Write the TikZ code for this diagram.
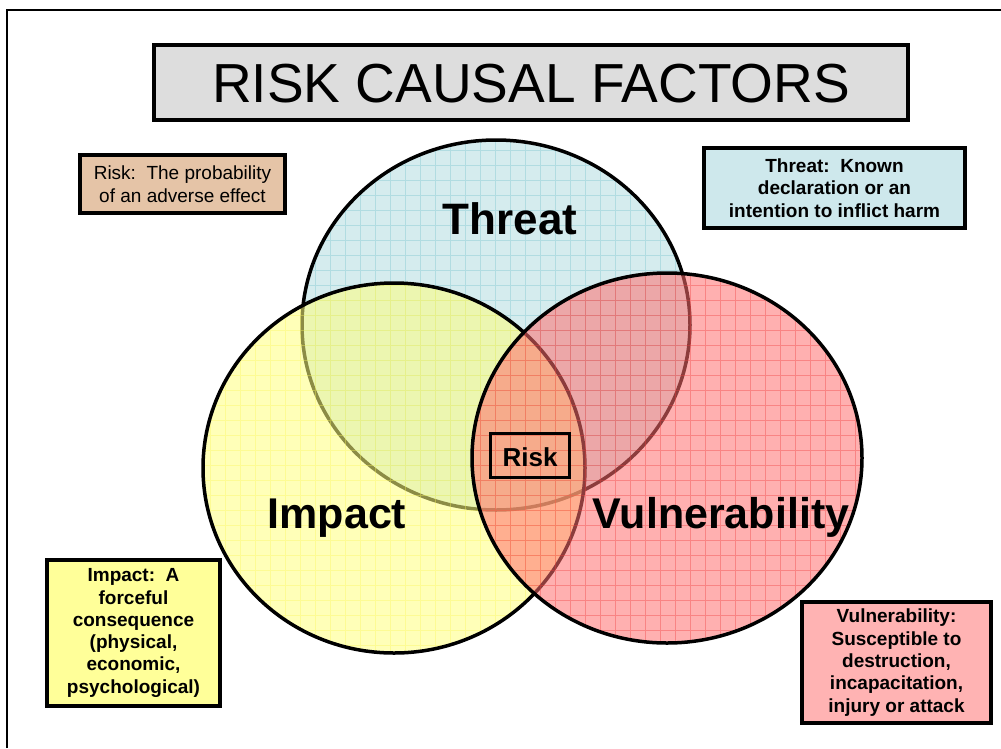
\documentclass[tikz,border=0pt]{standalone}
\usepackage{fontspec}
\setmainfont{Liberation Sans}
\definecolor{tbase}{RGB}{179,220,224}
\definecolor{ibase}{RGB}{255,255,126}
\definecolor{vbase}{RGB}{255,111,111}
\definecolor{tgrid}{RGB}{120,195,205}
\definecolor{igrid}{RGB}{250,245,90}
\definecolor{vgrid}{RGB}{240,60,60}
\definecolor{titlegray}{RGB}{221,221,221}
\definecolor{tanbox}{RGB}{229,196,167}
\definecolor{cyanbox}{RGB}{206,232,236}
\definecolor{yellowbox}{RGB}{255,255,153}
\definecolor{pinkbox}{RGB}{255,179,179}
\begin{document}
\begin{tikzpicture}[x=1pt,y=-1pt,
  infobox/.style={draw=black, line width=3.5pt, inner sep=0pt, align=center, font=\fontsize{19}{22.5}\selectfont},
  boldbox/.style={infobox, font=\fontsize{19}{22.3}\selectfont\bfseries},
  circlabel/.style={anchor=base, font=\fontsize{43}{50}\selectfont\bfseries},
  outline/.style={draw=black, line width=3.5pt},
  gridline/.style={line width=0.5pt, draw opacity=0.38}]
\useasboundingbox (0,0) rectangle (1001,748);
% page frame
\draw[line width=2pt] (7,748) -- (7,10) -- (1001,10);

% title
\node[draw=black, line width=4.5pt, fill=titlegray, minimum width=754, minimum height=75, inner sep=0pt] (titlebox) at (531,82.5) {};
\node[anchor=base, font=\fontsize{55}{60}\selectfont] (title) at (531,102) {RISK CAUSAL FACTORS};

% Threat circle
\fill[tbase, fill opacity=0.55] (496,325) ellipse [x radius=194, y radius=185];
\begin{scope}
  \clip (496,325) ellipse [x radius=194, y radius=185];
  \draw[tgrid, gridline, step=15pt] (285,120) grid (705,525);
\end{scope}
\draw[outline] (496,325) ellipse [x radius=194, y radius=185];

% Impact circle
\fill[ibase, fill opacity=0.55] (394,468) ellipse [x radius=191, y radius=185];
\begin{scope}
  \clip (394,468) ellipse [x radius=191, y radius=185];
  \draw[igrid, gridline, step=15pt] (195,270) grid (600,660);
\end{scope}
\draw[outline] (394,468) ellipse [x radius=191, y radius=185];

% Vulnerability circle
\fill[vbase, fill opacity=0.55] (667,458) ellipse [x radius=195, y radius=185];
\begin{scope}
  \clip (667,458) ellipse [x radius=195, y radius=185];
  \draw[vgrid, gridline, step=15pt] (465,265) grid (870,650);
\end{scope}
\draw[outline] (667,458) ellipse [x radius=195, y radius=185];

% circle labels
\node[circlabel, font=\fontsize{44}{50}\selectfont\bfseries] (threat) at (510,234) {Threat};
\node[circlabel] (impact) at (337,528) {Impact};
\node[circlabel] (vuln) at (721,528) {Vulnerability};

% Risk centre box
\node[draw=black, line width=3.5pt, minimum width=79, minimum height=44, inner sep=0pt] (riskbox) at (530,455.5) {};
\node[anchor=base, font=\fontsize{26}{30}\selectfont\bfseries] (risk) at (530,466) {Risk};

% definition boxes
\node[infobox, fill=tanbox, minimum width=205, minimum height=58] (riskdef) at (182.5,184)
  {Risk:\ \ The probability\\of an adverse effect};
\node[boldbox, fill=cyanbox, minimum width=261, minimum height=80] (threatdef) at (834.5,188)
  {Threat:\ \ Known\\declaration or an\\intention to inflict harm};
\node[boldbox, fill=yellowbox, minimum width=173, minimum height=146] (impactdef) at (133.5,633)
  {Impact:\ \ A\\forceful\\consequence\\(physical,\\economic,\\psychological)};
\node[boldbox, fill=pinkbox, minimum width=189, minimum height=121] (vulndef) at (896.5,662.5)
  {Vulnerability:\\Susceptible to\\destruction,\\incapacitation,\\injury or attack};
\end{tikzpicture}
\end{document}
